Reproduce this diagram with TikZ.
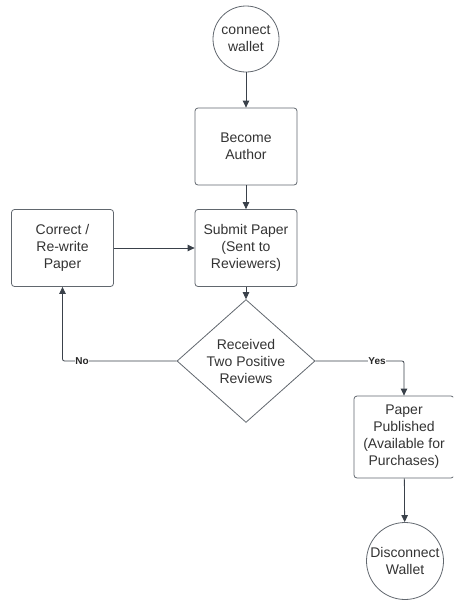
\documentclass[tikz,border=0pt]{standalone}
\usepackage{fontspec}
\setmainfont{Liberation Sans}
\usetikzlibrary{shapes.geometric,arrows.meta}
\definecolor{ln}{HTML}{3A414A}
\begin{document}
\begin{tikzpicture}[x=1pt,y=-1pt,
  every node/.style={font=\fontsize{14}{17}\selectfont, text=black!80, align=center},
  box/.style={draw=ln!80, rounded corners=3pt, minimum width=102pt, minimum height=77pt, inner sep=0pt, line width=0.8pt},
  circ/.style={draw=ln!80, circle, inner sep=0pt, line width=0.8pt},
  dia/.style={draw=ln!80, diamond, minimum width=138pt, minimum height=98pt, inner sep=0pt, line width=0.8pt},
  conn/.style={draw=ln, line width=0.8pt, -{Triangle[length=7pt,width=6.5pt]}, rounded corners=2pt},
  lbl/.style={font=\bfseries\fontsize{10}{12}\selectfont, fill=white, inner sep=0.5pt, text=black!85}]
\useasboundingbox (0,0) rectangle (453,600);
\clip (0,0) rectangle (453,600);
\node[circ, minimum size=66pt] (cw) at (246,39) {connect\\wallet};
\node[box] (ba) at (246,146.5) {Become\\Author};
\node[box] (sp) at (246,248) {Submit Paper\\(Sent to\\Reviewers)};
\node[box] (cr) at (62.5,248) {Correct /\\Re-write\\Paper};
\node[dia] (rv) at (246,361) {Received\\Two Positive\\Reviews};
\node[box, minimum width=100pt, minimum height=82pt] (pp) at (404,437) {Paper\\Published\\(Available for\\Purchases)};
\node[circ, minimum size=77pt] (dw) at (405,561) {Disconnect\\Wallet};
\draw[conn] (cw) -- (ba);
\draw[conn] (ba) -- (sp);
\draw[conn] (cr) -- (sp);
\draw[conn] (sp) -- (rv);
\draw[conn] (rv.west) -| (cr.south);
\draw[conn] (rv.east) -| (pp.north);
\draw[conn] (pp) -- (dw);
\node[lbl] (no) at (82,361) {No};
\node[lbl] (yes) at (377,361) {Yes};
\end{tikzpicture}
\end{document}
